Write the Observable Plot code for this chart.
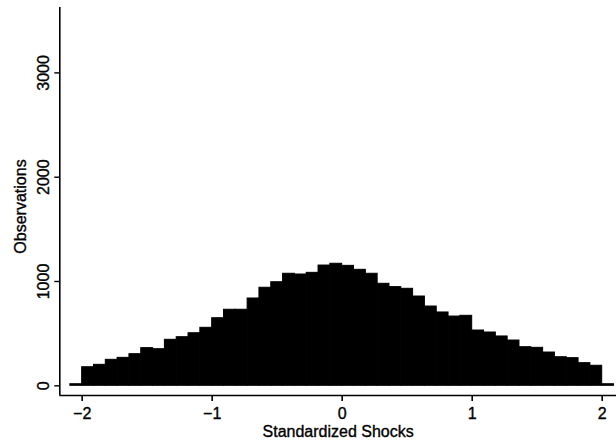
<!DOCTYPE html>
<html><head><meta charset="utf-8">
<script src="https://cdn.jsdelivr.net/npm/d3@7"></script>
<script src="https://cdn.jsdelivr.net/npm/@observablehq/plot@0.6"></script>
<style>body{margin:0;background:#fff}</style>
</head><body><div id="chart"></div>
<script>
// Histogram counts, one per bin (outer bins beyond ±2 are nearly empty)
const counts = [15,
  178, 201, 249, 268, 303, 361, 351, 441, 466, 504, 556,
  648, 729, 729, 837, 940, 993, 1074, 1067, 1083, 1153, 1170,
  1150, 1112, 1074, 978, 946, 930, 856, 760, 703, 664, 671,
  530, 511, 473, 434, 370, 364, 319, 274, 265, 217, 192,
  15];
const binWidth = 4 / 44;
const binStart = -2 - binWidth;
const xTicks = [-2, -1, 0, 1, 2];
const yTicks = [0, 1000, 2000, 3000];
const xLabel = "Standardized Shocks";
const yLabel = "Observations";
const xDomain = [-2.172, 2.110];
const yDomain = [-93, 3627];

const bins = counts.map((c, i) => ({x1: binStart + i * binWidth, x2: binStart + (i + 1) * binWidth, count: c}));
const fmtX = d => (d < 0 ? "\u2212" + Math.abs(d) : String(d));
const textStyle = {fontSize: 16, fill: "#000", stroke: "#000", strokeWidth: 0.35};

const chart = Plot.plot({
  width: 616, height: 448,
  marginLeft: 59.3, marginRight: 0, marginTop: 7, marginBottom: 53,
  style: {fontFamily: "'Liberation Sans', Arial, Helvetica, sans-serif", fontSize: "16px", color: "#000", background: "#fff"},
  x: {domain: xDomain},
  y: {domain: yDomain},
  marks: [
    Plot.rectY(bins, {x1: "x1", x2: "x2", y1: 0, y2: "count", fill: "#000", stroke: "#000", strokeWidth: 1}),
    Plot.ruleY([yDomain[0]], {x1: xDomain[0], x2: xDomain[1], stroke: "#000", strokeWidth: 1.6}),
    Plot.ruleX([xDomain[0]], {y1: yDomain[0], y2: yDomain[1], stroke: "#000", strokeWidth: 1.6}),
    Plot.axisX({ticks: xTicks, tickSize: 6, tickPadding: 4, tickFormat: () => "", label: null, stroke: "#000", strokeWidth: 1.6}),
    Plot.text(xTicks, {x: d => d, y: () => yDomain[0], dy: 18, text: fmtX, textAnchor: "middle", lineAnchor: "middle", ...textStyle}),
    Plot.axisY({ticks: yTicks, tickSize: 5, tickFormat: () => "", label: null, stroke: "#000", strokeWidth: 1.4}),
    Plot.text(yTicks, {x: () => xDomain[0], y: d => d, text: d => String(d), rotate: -90, dx: -16, textAnchor: "middle", lineAnchor: "middle", ...textStyle}),
    Plot.text([yLabel], {frameAnchor: "left", rotate: -90, dx: -39, dy: 5, textAnchor: "middle", lineAnchor: "middle", text: d => d, ...textStyle}),
    Plot.text([xLabel], {frameAnchor: "bottom", dy: 36, textAnchor: "middle", lineAnchor: "middle", text: d => d, ...textStyle})
  ]
});
document.getElementById("chart").appendChild(chart);
</script>
</body></html>
